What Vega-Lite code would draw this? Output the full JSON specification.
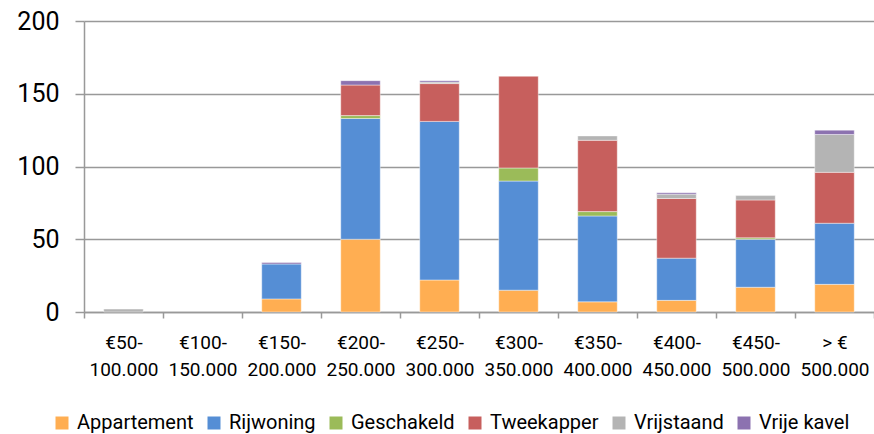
{
  "$schema": "https://vega.github.io/schema/vega-lite/v6.json",
  "width": 790,
  "height": 291,
  "autosize": "none",
  "padding": {"left": 84, "top": 21, "right": 0, "bottom": 122},
  "config": {"view": {"stroke": null}, "font": "Roboto"},
  "data": {
    "values": [
      {"cat": "€50-|100.000", "type": "Vrijstaand", "value": 2},
      {"cat": "€150-|200.000", "type": "Appartement", "value": 9},
      {"cat": "€150-|200.000", "type": "Rijwoning", "value": 24},
      {"cat": "€150-|200.000", "type": "Vrije kavel", "value": 1},
      {"cat": "€200-|250.000", "type": "Appartement", "value": 50},
      {"cat": "€200-|250.000", "type": "Rijwoning", "value": 83},
      {"cat": "€200-|250.000", "type": "Geschakeld", "value": 2},
      {"cat": "€200-|250.000", "type": "Tweekapper", "value": 21},
      {"cat": "€200-|250.000", "type": "Vrije kavel", "value": 3},
      {"cat": "€250-|300.000", "type": "Appartement", "value": 22},
      {"cat": "€250-|300.000", "type": "Rijwoning", "value": 109},
      {"cat": "€250-|300.000", "type": "Tweekapper", "value": 26},
      {"cat": "€250-|300.000", "type": "Vrijstaand", "value": 1},
      {"cat": "€250-|300.000", "type": "Vrije kavel", "value": 1},
      {"cat": "€300-|350.000", "type": "Appartement", "value": 15},
      {"cat": "€300-|350.000", "type": "Rijwoning", "value": 75},
      {"cat": "€300-|350.000", "type": "Geschakeld", "value": 9},
      {"cat": "€300-|350.000", "type": "Tweekapper", "value": 63},
      {"cat": "€350-|400.000", "type": "Appartement", "value": 7},
      {"cat": "€350-|400.000", "type": "Rijwoning", "value": 59},
      {"cat": "€350-|400.000", "type": "Geschakeld", "value": 3},
      {"cat": "€350-|400.000", "type": "Tweekapper", "value": 49},
      {"cat": "€350-|400.000", "type": "Vrijstaand", "value": 3},
      {"cat": "€400-|450.000", "type": "Appartement", "value": 8},
      {"cat": "€400-|450.000", "type": "Rijwoning", "value": 29},
      {"cat": "€400-|450.000", "type": "Tweekapper", "value": 41},
      {"cat": "€400-|450.000", "type": "Vrijstaand", "value": 3},
      {"cat": "€400-|450.000", "type": "Vrije kavel", "value": 1},
      {"cat": "€450-|500.000", "type": "Appartement", "value": 17},
      {"cat": "€450-|500.000", "type": "Rijwoning", "value": 33},
      {"cat": "€450-|500.000", "type": "Geschakeld", "value": 1},
      {"cat": "€450-|500.000", "type": "Tweekapper", "value": 26},
      {"cat": "€450-|500.000", "type": "Vrijstaand", "value": 3},
      {"cat": "> €|500.000", "type": "Appartement", "value": 19},
      {"cat": "> €|500.000", "type": "Rijwoning", "value": 42},
      {"cat": "> €|500.000", "type": "Tweekapper", "value": 35},
      {"cat": "> €|500.000", "type": "Vrijstaand", "value": 26},
      {"cat": "> €|500.000", "type": "Vrije kavel", "value": 3}
    ]
  },
  "transform": [
    {"calculate": "indexof(['Appartement','Rijwoning','Geschakeld','Tweekapper','Vrijstaand','Vrije kavel'], datum.type)", "as": "o"}
  ],
  "mark": {"type": "bar", "width": {"band": 0.5}, "stroke": "white", "strokeWidth": 0.6, "strokeOpacity": 0.7},
  "encoding": {
    "x": {
      "field": "cat",
      "type": "nominal",
      "sort": ["€50-|100.000", "€100-|150.000", "€150-|200.000", "€200-|250.000", "€250-|300.000", "€300-|350.000", "€350-|400.000", "€400-|450.000", "€450-|500.000", "> €|500.000"],
      "scale": {"domain": ["€50-|100.000", "€100-|150.000", "€150-|200.000", "€200-|250.000", "€250-|300.000", "€300-|350.000", "€350-|400.000", "€400-|450.000", "€450-|500.000", "> €|500.000"], "paddingInner": 0, "paddingOuter": 0},
      "axis": {
        "title": null,
        "labelAngle": 0,
        "labelExpr": "split(datum.label, '|')",
        "labelFontSize": 19,
        "labelColor": "#000000",
        "labelLineHeight": 27,
        "labelPadding": 15,
        "tickBand": "extent",
        "tickColor": "#999999",
        "tickWidth": 1.5,
        "tickSize": 6,
        "domainColor": "#999999",
        "domainWidth": 1.5,
        "grid": false
      }
    },
    "y": {
      "field": "value",
      "type": "quantitative",
      "stack": "zero",
      "scale": {"domain": [0, 200], "nice": false},
      "axis": {
        "title": null,
        "values": [0, 50, 100, 150, 200],
        "grid": true,
        "gridColor": "#999999",
        "gridWidth": 1.5,
        "domainColor": "#999999",
        "domainWidth": 1.5,
        "tickColor": "#999999",
        "tickWidth": 1.5,
        "tickSize": 9,
        "labelFontSize": 25,
        "labelColor": "#000000",
        "labelPadding": 16
      }
    },
    "color": {
      "field": "type",
      "type": "nominal",
      "sort": ["Appartement", "Rijwoning", "Geschakeld", "Tweekapper", "Vrijstaand", "Vrije kavel"],
      "scale": {
        "domain": ["Appartement", "Rijwoning", "Geschakeld", "Tweekapper", "Vrijstaand", "Vrije kavel"],
        "range": ["#FFAE52", "#558ED5", "#9BBB59", "#C75F5D", "#B4B4B4", "#8C72B0"]
      },
      "legend": {
        "title": null,
        "orient": "none",
        "legendX": -32,
        "legendY": 392,
        "direction": "horizontal",
        "columns": 6,
        "symbolType": "square",
        "symbolSize": 169,
        "symbolStrokeWidth": 0,
        "labelFontSize": 20,
        "labelColor": "#000000",
        "labelOffset": 5,
        "columnPadding": 10,
        "padding": 0
      }
    },
    "order": {"field": "o", "type": "quantitative"}
  }
}
